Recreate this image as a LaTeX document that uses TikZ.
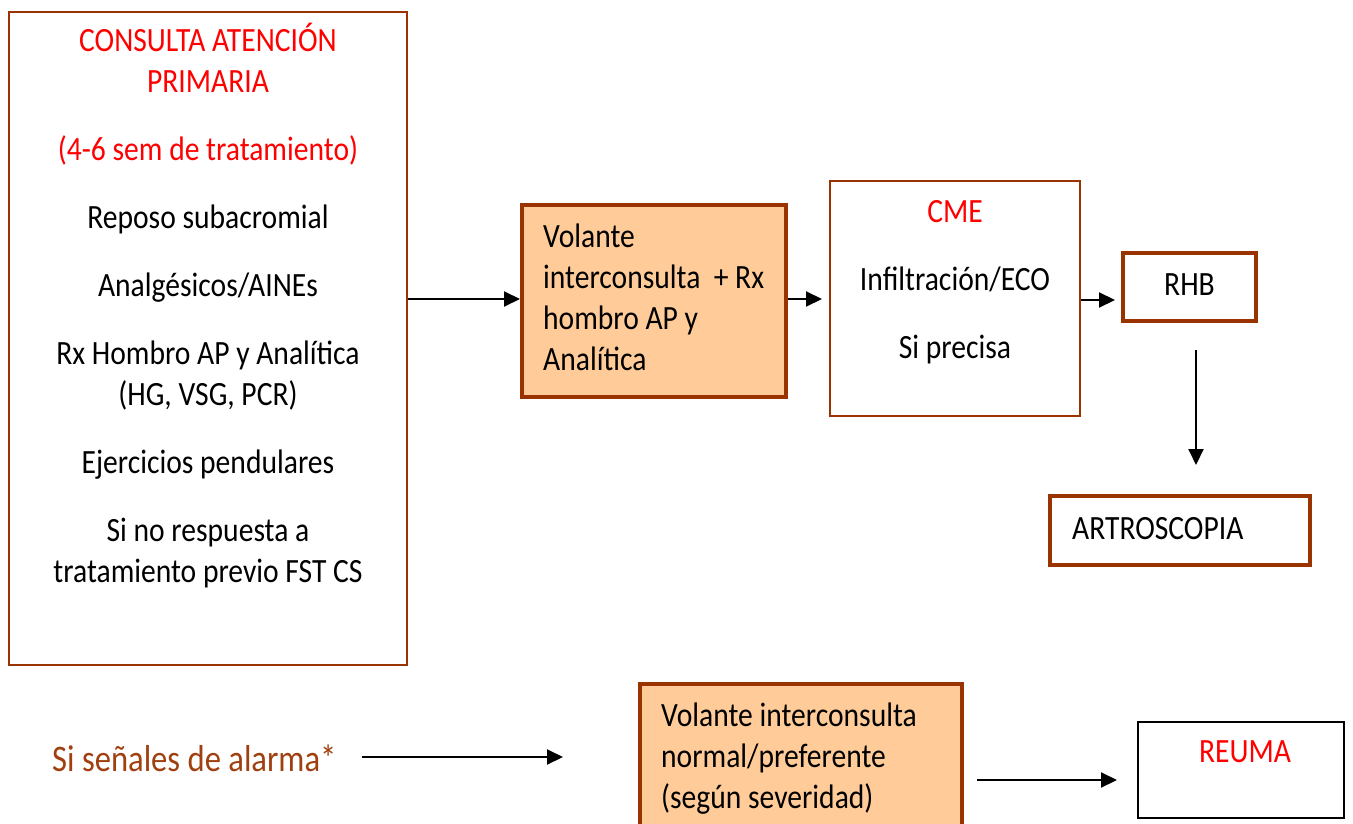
\documentclass[tikz,border=0pt]{standalone}
\usepackage{fontspec}
\setmainfont{Carlito}[FakeStretch=0.87]
\usetikzlibrary{arrows.meta}
\definecolor{boxbrown}{RGB}{153,51,0}
\definecolor{peach}{RGB}{255,204,153}
\definecolor{alarmbrown}{RGB}{160,64,16}
\begin{document}
\begin{tikzpicture}[x=1pt,y=-1pt,
  thinbox/.style={draw=boxbrown,line width=2pt,inner sep=0pt},
  thickbox/.style={draw=boxbrown,line width=4pt,inner sep=0pt},
  fillbox/.style={thickbox,fill=peach},
  plainbox/.style={draw=black,line width=2pt,inner sep=0pt},
  txt/.style={inner sep=0pt,font=\fontsize{34}{41}\selectfont},
  arr/.style={line width=2pt,-{Triangle[length=16pt,width=15pt]}}]
\clip (0,0) rectangle (1353,824);
\fill[white] (0,0) rectangle (1353,824);

% boxes
\node[thinbox,minimum width=398pt,minimum height=653pt] (ap) at (208,338.5) {};
\node[fillbox,minimum width=264pt,minimum height=192pt] (vol1) at (654,301) {};
\node[thinbox,minimum width=250pt,minimum height=235pt] (cme) at (955,298.5) {};
\node[thickbox,minimum width=133pt,minimum height=68pt] (rhb) at (1189.5,287) {};
\node[thickbox,minimum width=260pt,minimum height=69pt] (art) at (1180,530.5) {};
\node[fillbox,minimum width=322pt,minimum height=146pt] (vol2) at (801,757) {};
\node[plainbox,minimum width=206pt,minimum height=96pt] (reuma) at (1241,770) {};

% texts (multi-line nodes are placed by the baseline of their last line)
\node[txt,anchor=base,align=center] (aptext) at (208,582) {%
  {\color{red}CONSULTA ATENCIÓN}\\
  {\color{red}PRIMARIA}\\[27pt]
  {\color{red}(4-6 sem de tratamiento)}\\[27pt]
  Reposo subacromial\\[27pt]
  Analgésicos/AINEs\\[27pt]
  Rx Hombro AP y Analítica\\
  (HG, VSG, PCR)\\[27pt]
  Ejercicios pendulares\\[27pt]
  Si no respuesta a\\
  tratamiento previo FST CS};
\node[txt,anchor=base west,align=left] (vol1text) at (543,370) {%
  Volante\\
  interconsulta~ + Rx\\
  hombro AP y\\
  Analítica};
\node[txt,anchor=base,align=center] (cmetext) at (955,358) {%
  {\color{red}CME}\\[27pt]
  Infiltración/ECO\\[27pt]
  Si precisa};
\node[txt,anchor=base] (rhbtext) at (1189.5,295) {RHB};
\node[txt,anchor=base west] (arttext) at (1072,539) {ARTROSCOPIA};
\node[txt,anchor=base west,text=alarmbrown,font=\fontsize{37.5}{45}\selectfont] (alarm) at (52,771) {Si señales de alarma*};
\node[txt,anchor=base west,align=left] (vol2text) at (661,808) {%
  Volante interconsulta\\
  normal/preferente\\
  (según severidad)};
\node[txt,anchor=base,text=red] (reumatext) at (1245,762) {REUMA};

% connectors
\draw[arr] (ap.east |- 0,299) -- (vol1.west |- 0,299);
\draw[arr,shorten >=7pt] (vol1.east |- 0,299) -- (cme.west |- 0,299);
\draw[arr,shorten >=6pt] (cme.east |- 0,300) -- (rhb.west |- 0,300);
\draw[arr,shorten <=27pt,shorten >=29pt] (rhb.south -| 1196,0) -- (art.north -| 1196,0);
\draw[arr,shorten <=25pt,shorten >=75pt] (alarm.east |- 0,757) -- (vol2.west |- 0,757);
\draw[arr,shorten <=13pt,shorten >=20pt] (vol2.east |- 0,780) -- (reuma.west |- 0,780);
\end{tikzpicture}
\end{document}
